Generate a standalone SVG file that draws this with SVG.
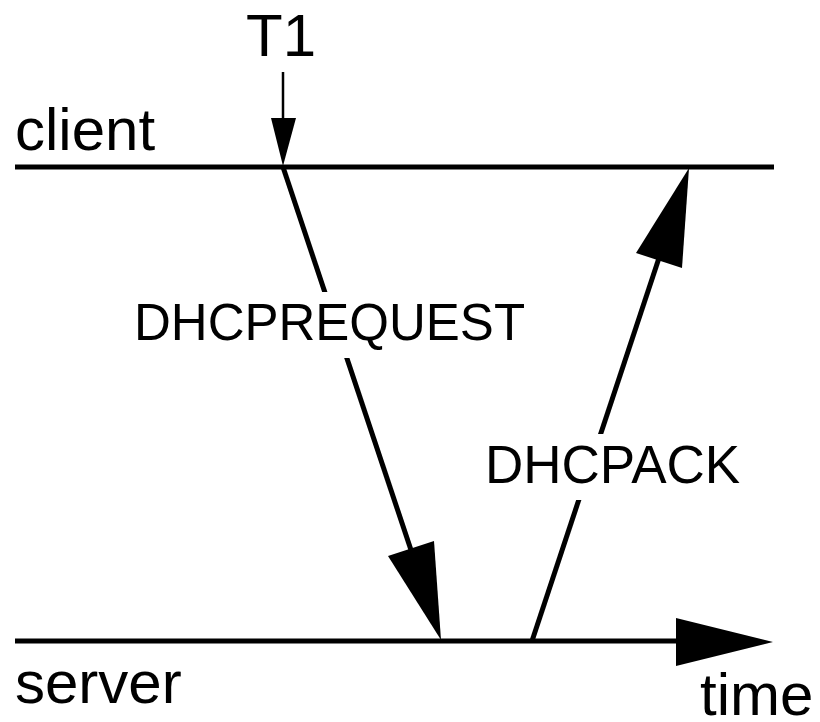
<svg xmlns="http://www.w3.org/2000/svg" width="820" height="722" viewBox="0 0 820 722">
<style>
.t{font-family:"Liberation Sans",Arial,sans-serif;fill:#000}
.ln{stroke:#000;stroke-width:5;fill:none}
.hd{fill:#000;stroke:none}
.bg{fill:#fff;stroke:none}
</style>
<rect width="820" height="722" fill="#fff"/>
<g id="client">
<line class="ln" x1="15" y1="167" x2="774" y2="167"/>
<text class="t" x="15" y="150" font-size="60">client</text>
</g>
<g id="server">
<line class="ln" x1="15" y1="641" x2="680" y2="641"/>
<text class="t" x="15" y="703" font-size="60">server</text>
</g>
<g id="t1">
<text class="t" x="246" y="56" font-size="60">T1</text>
</g>
<g id="time">
<text class="t" x="700" y="715" font-size="60">time</text>
</g>
<g id="connectors">
<line x1="283" y1="72" x2="283" y2="120" stroke="#000" stroke-width="2.5"/>
<polygon class="hd" points="283,166 271,118 296,118"/>
<line class="ln" x1="283" y1="167" x2="411" y2="550"/>
<polygon class="hd" points="441,640 388,556 434,541"/>
<line class="ln" x1="532" y1="641" x2="659" y2="258"/>
<polygon class="hd" points="689,168 636,253 682,268"/>
<polygon class="hd" points="773,642 676,618 676,666"/>
<rect class="bg" x="128" y="292" width="398" height="66"/>
<text class="t" x="134" y="340" font-size="51">DHCPREQUEST</text>
<rect class="bg" x="480" y="434" width="265" height="66"/>
<text class="t" x="485" y="483" font-size="53">DHCPACK</text>
</g>
</svg>
